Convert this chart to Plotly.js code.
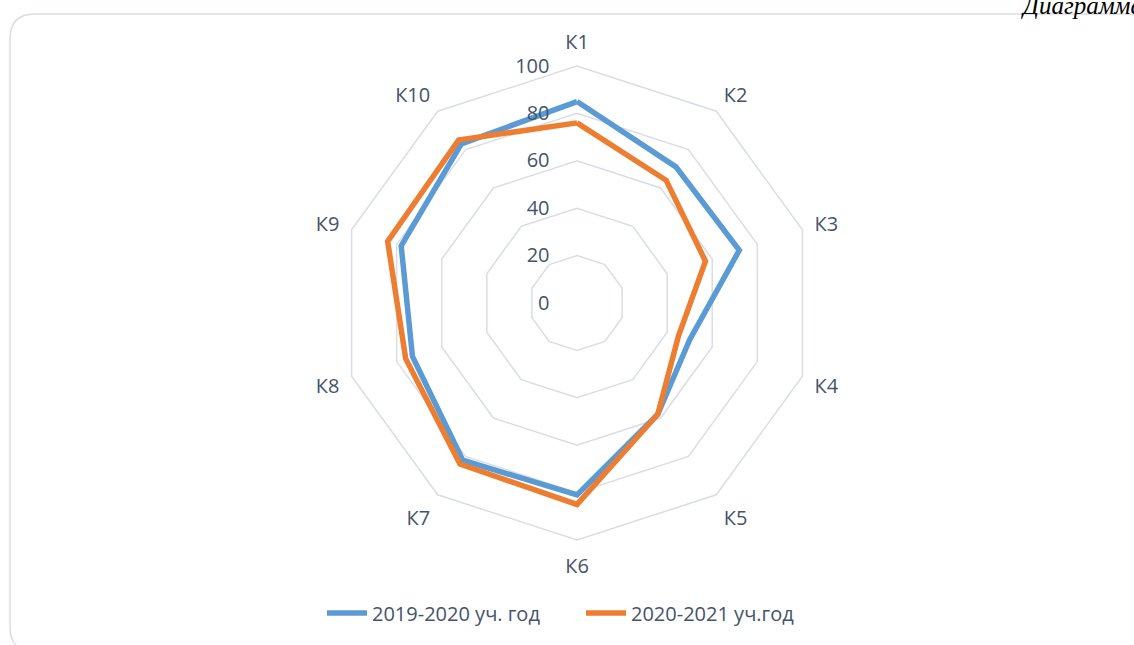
<!DOCTYPE html>
<html>
<head>
<meta charset="utf-8">
<script src="https://cdn.plot.ly/plotly-3.0.1.min.js"></script>
<style>html,body{margin:0;padding:0;background:#fff;}#chart{width:1134px;height:645px;}</style>
</head>
<body>
<div id="chart"></div>
<script>
var categories = ["К1","К2","К3","К4","К5","К6","К7","К8","К9","К10"];
var series1Name = "2019-2020 уч. год";
var series1 = [85, 71, 72, 50, 58, 81, 82, 73, 78, 83];
var series2Name = "2020-2021 уч.год";
var series2 = [76, 64, 57, 45, 58, 85, 84, 76, 84, 85];
var radialTicks = [0, 20, 40, 60, 80, 100];

var W = 1134, H = 645;
function px(x){return x/W;}
function py(y){return 1 - y/H;}
function close(a){return a.concat([a[0]]);}

var textColor = "#44546a";
var gridColor = "#d9dde4";
var font = "Open Sans, Noto Sans, sans-serif";

var traces = [
  {type:"scatterpolar", r:close(series1), theta:close(categories), name:series1Name, mode:"lines",
   line:{color:"#5b9bd5", width:5.5}},
  {type:"scatterpolar", r:close(series2), theta:close(categories), name:series2Name, mode:"lines",
   line:{color:"#ed7d31", width:5.5}}
];

// rounded border path
var L=10, T=14, R=1150, B=652, rr=25;
function P(x,y){return px(x)+","+py(y);}
var borderPath = "M"+P(L+rr,T)+" L"+P(R-rr,T)+" Q"+P(R,T)+" "+P(R,T+rr)+" L"+P(R,B-rr)+" Q"+P(R,B)+" "+P(R-rr,B)+
  " L"+P(L+rr,B)+" Q"+P(L,B)+" "+P(L,B-rr)+" L"+P(L,T+rr)+" Q"+P(L,T)+" "+P(L+rr,T)+" Z";

var layout = {
  width: W, height: H,
  margin:{l:0,r:0,t:0,b:0},
  paper_bgcolor:"#fff",
  font:{family:font, size:20, color:textColor},
  showlegend:true,
  legend:{orientation:"h", x:px(322), xanchor:"left", y:py(613), yanchor:"middle", itemwidth:40,
    entrywidth:204, entrywidthmode:"pixels",
    font:{family:font, size:20, color:textColor}},
  polar:{
    domain:{x:[px(340), px(814)], y:[py(540), py(66)]},
    gridshape:"linear",
    bgcolor:"rgba(0,0,0,0)",
    radialaxis:{range:[0,100], tickvals:radialTicks, angle:90, side:"counterclockwise", tickangle:90,
      showline:false, ticks:"outside", ticklen:20, tickcolor:"rgba(0,0,0,0)", gridcolor:gridColor, gridwidth:1.5,
      tickfont:{family:font, size:20, color:textColor}},
    angularaxis:{rotation:90, direction:"clockwise", showgrid:false, linecolor:gridColor, linewidth:1.5,
      ticks:"outside", ticklen:8, tickcolor:"rgba(0,0,0,0)", tickfont:{family:font, size:20, color:textColor}}
  },
  shapes:[{type:"path", xref:"paper", yref:"paper", path:borderPath, line:{color:"#d9dde4", width:1.5}, layer:"below"}],
  annotations:[{xref:"paper", yref:"paper", x:px(1019), y:py(6), xanchor:"left", yanchor:"middle", showarrow:false,
    text:"Диаграмма", font:{family:"Liberation Serif, serif", size:25, color:"#000", style:"italic"}}]
};
Plotly.newPlot("chart", traces, layout, {displayModeBar:false, staticPlot:true});
</script>
</body>
</html>
